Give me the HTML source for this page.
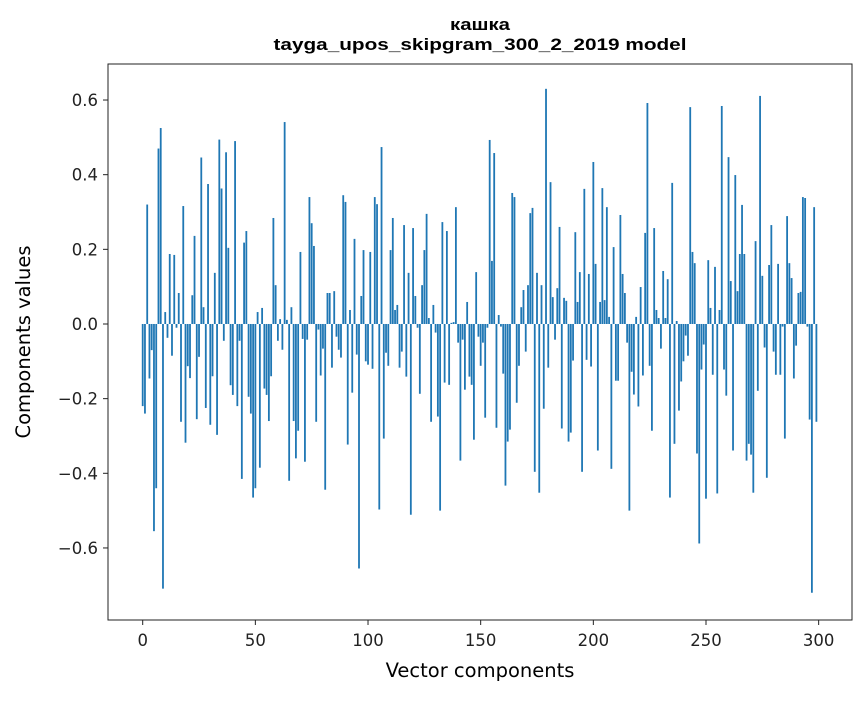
<!DOCTYPE html>
<html><head><meta charset="utf-8"><style>
body{margin:0;background:#fff;}
svg text{font-family:"DejaVu Sans","Liberation Sans",sans-serif;}
svg text.ttl{font-family:"Liberation Sans","Noto Sans CJK SC",sans-serif;}
</style></head><body>
<svg id="chart" width="867" height="696" xmlns="http://www.w3.org/2000/svg">
<rect width="867" height="696" fill="#fff"/>
<text class="ttl" x="480" y="30" text-anchor="middle" font-size="17" font-weight="bold" textLength="60" lengthAdjust="spacingAndGlyphs">кашка</text>
<text class="ttl" x="480" y="50" text-anchor="middle" font-size="17" font-weight="bold" textLength="413" lengthAdjust="spacingAndGlyphs">tayga_upos_skipgram_300_2_2019 model</text>
<g id="bars"></g>
<rect x="108" y="64" width="744" height="556" fill="none" stroke="#222" stroke-width="1"/>
<g id="xticks"></g>
<g id="yticks"></g>
<text x="480" y="677" text-anchor="middle" font-size="19.5">Vector components</text>
<text transform="translate(30,342) rotate(-90)" text-anchor="middle" font-size="19.5">Components values</text>
</svg>
<script>
const values = [
-0.22,-0.24,0.32,-0.146,-0.07,-0.555,-0.44,0.47,0.525,-0.709,
0.032,-0.037,0.1875,-0.085,0.185,-0.01,0.083,-0.262,0.316,-0.318,
-0.113,-0.145,0.077,0.236,-0.255,-0.088,0.446,0.045,-0.225,0.375,
-0.27,-0.14,0.137,-0.297,0.494,0.363,-0.045,0.46,0.204,-0.164,
-0.19,0.49,-0.22,-0.045,-0.415,0.218,0.249,-0.195,-0.24,-0.465,
-0.44,0.032,-0.385,0.043,-0.173,-0.19,-0.26,-0.14,0.284,0.104,
-0.045,0.013,-0.069,0.541,0.011,-0.42,0.045,-0.26,-0.36,-0.286,
0.193,-0.04,-0.369,-0.042,0.34,0.27,0.209,-0.262,-0.015,-0.138,
-0.066,-0.444,0.083,0.083,-0.117,0.088,-0.034,-0.069,-0.09,0.345,
0.327,-0.323,0.0375,-0.184,0.228,-0.082,-0.655,0.075,0.198,-0.1,
-0.109,0.193,-0.12,0.34,0.321,-0.497,0.474,-0.307,-0.077,-0.112,
0.198,0.284,0.0375,0.051,-0.117,-0.074,0.265,-0.141,0.137,-0.511,
0.257,0.075,-0.01,-0.187,0.104,0.198,0.295,0.016,-0.262,0.051,
-0.023,-0.248,-0.5,0.273,-0.157,0.249,-0.163,0.003,0.005,0.313,
-0.05,-0.366,-0.042,-0.176,0.059,-0.141,-0.163,-0.31,0.139,-0.034,
-0.112,-0.05,-0.251,-0.01,0.493,0.169,0.458,-0.278,0.024,-0.007,
-0.133,-0.433,-0.315,-0.283,0.351,0.34,-0.211,-0.112,0.045,0.091,
-0.074,0.104,0.297,0.311,-0.396,0.137,-0.452,0.104,-0.227,0.63,
-0.117,0.38,0.072,-0.042,0.096,0.26,-0.28,0.07,0.062,-0.315,
-0.291,-0.098,0.246,0.059,0.139,-0.396,0.362,-0.096,0.134,-0.114,
0.434,0.161,-0.339,0.059,0.364,0.064,0.313,0.019,-0.388,0.206,
-0.152,-0.152,0.292,0.134,0.083,-0.05,-0.5,-0.128,-0.189,0.019,
-0.221,0.099,-0.138,0.244,0.592,-0.112,-0.286,0.257,0.0375,0.016,
-0.066,0.142,0.016,0.12,-0.465,0.378,-0.321,0.008,-0.232,-0.154,
-0.1,-0.031,-0.085,0.581,0.193,0.163,-0.347,-0.588,-0.122,-0.055,
-0.468,0.171,0.043,-0.136,0.153,-0.454,0.0375,0.584,-0.122,-0.192,
0.447,0.115,-0.339,0.399,0.088,0.1875,0.319,0.1875,-0.366,-0.321,
-0.35,-0.452,0.222,-0.179,0.611,0.129,-0.063,-0.412,0.158,0.265,
-0.074,-0.136,0.161,-0.136,-0.007,-0.307,0.289,0.163,0.123,-0.146,
-0.058,0.083,0.086,0.34,0.3375,-0.007,-0.256,-0.72,0.313,-0.262
];
const xTicks = [0,50,100,150,200,250,300];
const yTicks = [-0.6,-0.4,-0.2,0.0,0.2,0.4,0.6];

const NS = "http://www.w3.org/2000/svg";
const X0 = 108, X1 = 852, Y0 = 64, Y1 = 620;
const xMin = -15.4, xMax = 314.8;
const yMin = -0.793, yMax = 0.6965;
function xs(v){ return X0 + (v - xMin) / (xMax - xMin) * (X1 - X0); }
function ys(v){ return Y1 - (v - yMin) / (yMax - yMin) * (Y1 - Y0); }

const barsG = document.getElementById('bars');
values.forEach((v, i) => {
  const r = document.createElementNS(NS, 'rect');
  const xa = xs(i - 0.4), xb = xs(i + 0.4);
  const ya = ys(Math.max(v, 0)), yb = ys(Math.min(v, 0));
  r.setAttribute('x', xa);
  r.setAttribute('width', xb - xa);
  r.setAttribute('y', ya);
  r.setAttribute('height', Math.max(yb - ya, 0.3));
  r.setAttribute('fill', '#1f77b4');
  
  
  barsG.appendChild(r);
});

const xg = document.getElementById('xticks');
xTicks.forEach(t => {
  const x = xs(t);
  const l = document.createElementNS(NS, 'line');
  l.setAttribute('x1', x); l.setAttribute('x2', x);
  l.setAttribute('y1', Y1); l.setAttribute('y2', Y1 + 5);
  l.setAttribute('stroke', '#222');
  
  
  xg.appendChild(l);
  const tx = document.createElementNS(NS, 'text');
  tx.setAttribute('x', x); tx.setAttribute('y', Y1 + 26);
  tx.setAttribute('text-anchor', 'middle');
  tx.setAttribute('font-size', '16.5');
  tx.setAttribute('fill', '#222');
  tx.textContent = String(t);
  
  
  xg.appendChild(tx);
});

const yg = document.getElementById('yticks');
yTicks.forEach(t => {
  const y = ys(t);
  const l = document.createElementNS(NS, 'line');
  l.setAttribute('x1', X0 - 5); l.setAttribute('x2', X0);
  l.setAttribute('y1', y); l.setAttribute('y2', y);
  l.setAttribute('stroke', '#222');
  
  
  yg.appendChild(l);
  const tx = document.createElementNS(NS, 'text');
  tx.setAttribute('x', X0 - 10); tx.setAttribute('y', y + 6);
  tx.setAttribute('text-anchor', 'end');
  tx.setAttribute('font-size', '16.5');
  tx.setAttribute('fill', '#222');
  tx.textContent = (t < 0 ? '\u2212' : '') + Math.abs(t).toFixed(1);
  
  
  yg.appendChild(tx);
});
</script>
</body></html>
